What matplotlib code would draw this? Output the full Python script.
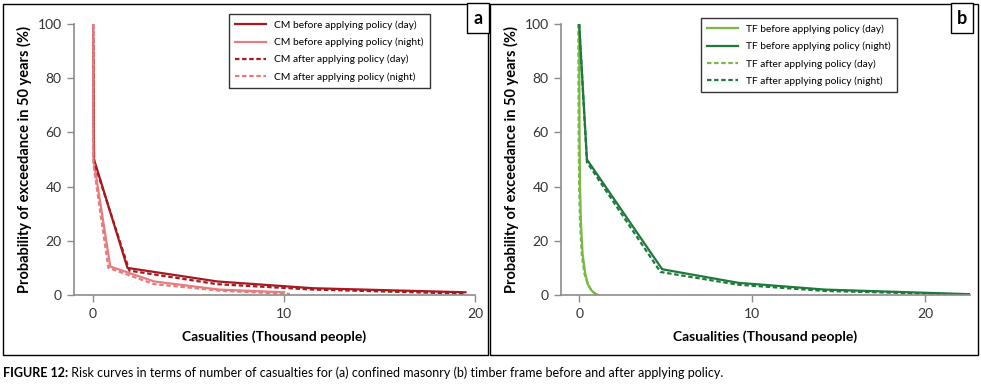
import matplotlib.pyplot as plt
from matplotlib.patches import Rectangle

# ---- data (thousand people, % probability) ----
cm_day_before_x = [0, 0.05, 1.8, 6.5, 11.5, 19.5]
cm_day_before_y = [100, 50, 10, 5, 2.5, 1]
cm_night_before_x = [0, 0.02, 0.9, 3.2, 6.6, 10]
cm_night_before_y = [100, 50, 10.5, 5, 2, 1]
cm_day_after_x = [0, 0.05, 1.9, 6.5, 11.5, 19.5]
cm_day_after_y = [100, 49, 9, 4, 2, 0.5]
cm_night_after_x = [0, 0.02, 0.8, 3.2, 6.8, 10.3]
cm_night_after_y = [100, 48, 10, 4, 1.5, 0.4]

tf_day_before_x = [0, 0.02, 0.05, 0.1, 0.2, 0.35, 0.5, 0.7, 0.9, 1.1]
tf_day_before_y = [100, 60, 40, 27, 15, 8, 4, 1.8, 0.6, 0]
tf_night_before_x = [0, 0.45, 4.8, 9.2, 14.2, 22.6]
tf_night_before_y = [100, 50, 9.5, 4.5, 2, 0.3]
tf_day_after_x = [-0.05, -0.03, 0.0, 0.05, 0.15, 0.3, 0.5, 0.7, 0.9, 1.1]
tf_day_after_y = [100, 60, 40, 27, 15, 8, 4, 1.8, 0.6, 0]
tf_night_after_x = [0, 0.45, 4.7, 9.2, 14.2, 22.6]
tf_night_after_y = [100, 49, 8.5, 3.8, 1.5, 0.1]

cm_labels = ["CM before applying policy (day)", "CM before applying policy (night)",
             "CM after applying policy (day)", "CM after applying policy (night)"]
tf_labels = ["TF before applying policy (day)", "TF before applying policy (night)",
             "TF after applying policy (day)", "TF after applying policy (night)"]

dark_red = "#a8191f"
light_red = "#ea7b7d"
light_green = "#78b843"
dark_green = "#1d7a3a"
grey = "#8c8c8c"

plt.rcParams['font.family'] = ['Lato', 'DejaVu Sans']

fig = plt.figure(figsize=(9.81, 3.9), dpi=100)

# panel frames
fig.patches.append(Rectangle((3 / 981, 1 - 355 / 390), 485 / 981, 351 / 390,
                             transform=fig.transFigure, fill=False, ec="black", lw=1))
fig.patches.append(Rectangle((490 / 981, 1 - 355 / 390), 488 / 981, 351 / 390,
                             transform=fig.transFigure, fill=False, ec="black", lw=1))

ax1 = fig.add_axes([74 / 981, 1 - 295 / 390, 401 / 981, 271 / 390])
ax2 = fig.add_axes([561 / 981, 1 - 295 / 390, 409 / 981, 271 / 390])

ax1.plot(cm_day_before_x, cm_day_before_y, color=dark_red, lw=1.6, label=cm_labels[0])
ax1.plot(cm_night_before_x, cm_night_before_y, color=light_red, lw=1.6, label=cm_labels[1])
ax1.plot(cm_day_after_x, cm_day_after_y, color=dark_red, lw=1.6, ls=(0, (2, 1.2)), label=cm_labels[2])
ax1.plot(cm_night_after_x, cm_night_after_y, color=light_red, lw=1.6, ls=(0, (2, 1.2)), label=cm_labels[3])
ax1.set_xlim(-1, 20)

ax2.plot(tf_day_before_x, tf_day_before_y, color=light_green, lw=1.6, label=tf_labels[0])
ax2.plot(tf_night_before_x, tf_night_before_y, color=dark_green, lw=1.6, label=tf_labels[1])
ax2.plot(tf_day_after_x, tf_day_after_y, color=light_green, lw=1.6, ls=(0, (2, 1.2)), label=tf_labels[2])
ax2.plot(tf_night_after_x, tf_night_after_y, color=dark_green, lw=1.6, ls=(0, (2, 1.2)), label=tf_labels[3])
ax2.set_xlim(-1.05, 22.6)

for ax, anchor in ((ax1, (0.900, 1.055)), (ax2, (0.834, 1.04))):
    ax.set_ylim(0, 100)
    ax.set_yticks([0, 20, 40, 60, 80, 100])
    ax.set_xticks([0, 10, 20])
    for s in ("top", "right"):
        ax.spines[s].set_visible(False)
    for s in ("left", "bottom"):
        ax.spines[s].set_color(grey)
        ax.spines[s].set_linewidth(1.2)
    ax.tick_params(direction="out", length=5, width=1, color=grey, labelsize=10,
                   labelcolor="#333333", pad=4)
    ax.set_xlabel("Casualities (Thousand people)", fontsize=10, fontweight="bold",
                  labelpad=8)
    ax.set_ylabel("Probability of exceedance in 50 years (%)", fontsize=10.5,
                  fontweight="bold", labelpad=4)
    leg = ax.legend(loc="upper right", bbox_to_anchor=anchor, fontsize=7.4,
                    frameon=True, fancybox=False, edgecolor="black", handlelength=3.0,
                    borderpad=0.6, labelspacing=0.75, handletextpad=0.8)
    leg.get_frame().set_linewidth(1)

# panel letters
for label, x0 in (("a", 465), ("b", 949)):
    fig.text((x0 + 13) / 981, 1 - 18 / 390, label, ha="center", va="center",
             fontsize=13, fontweight="bold",
             bbox=dict(boxstyle="square,pad=0.35", fc="white", ec="black", lw=1))

# caption: bold lead-in, then the rest placed right after it
cap1 = fig.text(3 / 981, 1 - 373 / 390, "FIGURE 12:", fontsize=9, fontweight="bold",
                va="center")
fig.add_artist(plt.Annotation(
    " Risk curves in terms of number of casualties for (a) confined masonry "
    "(b) timber frame before and after applying policy.",
    xy=(1, 0.5), xycoords=cap1, fontsize=9, va="center", ha="left",
    annotation_clip=False))

fig.savefig("out.png", dpi=100)
